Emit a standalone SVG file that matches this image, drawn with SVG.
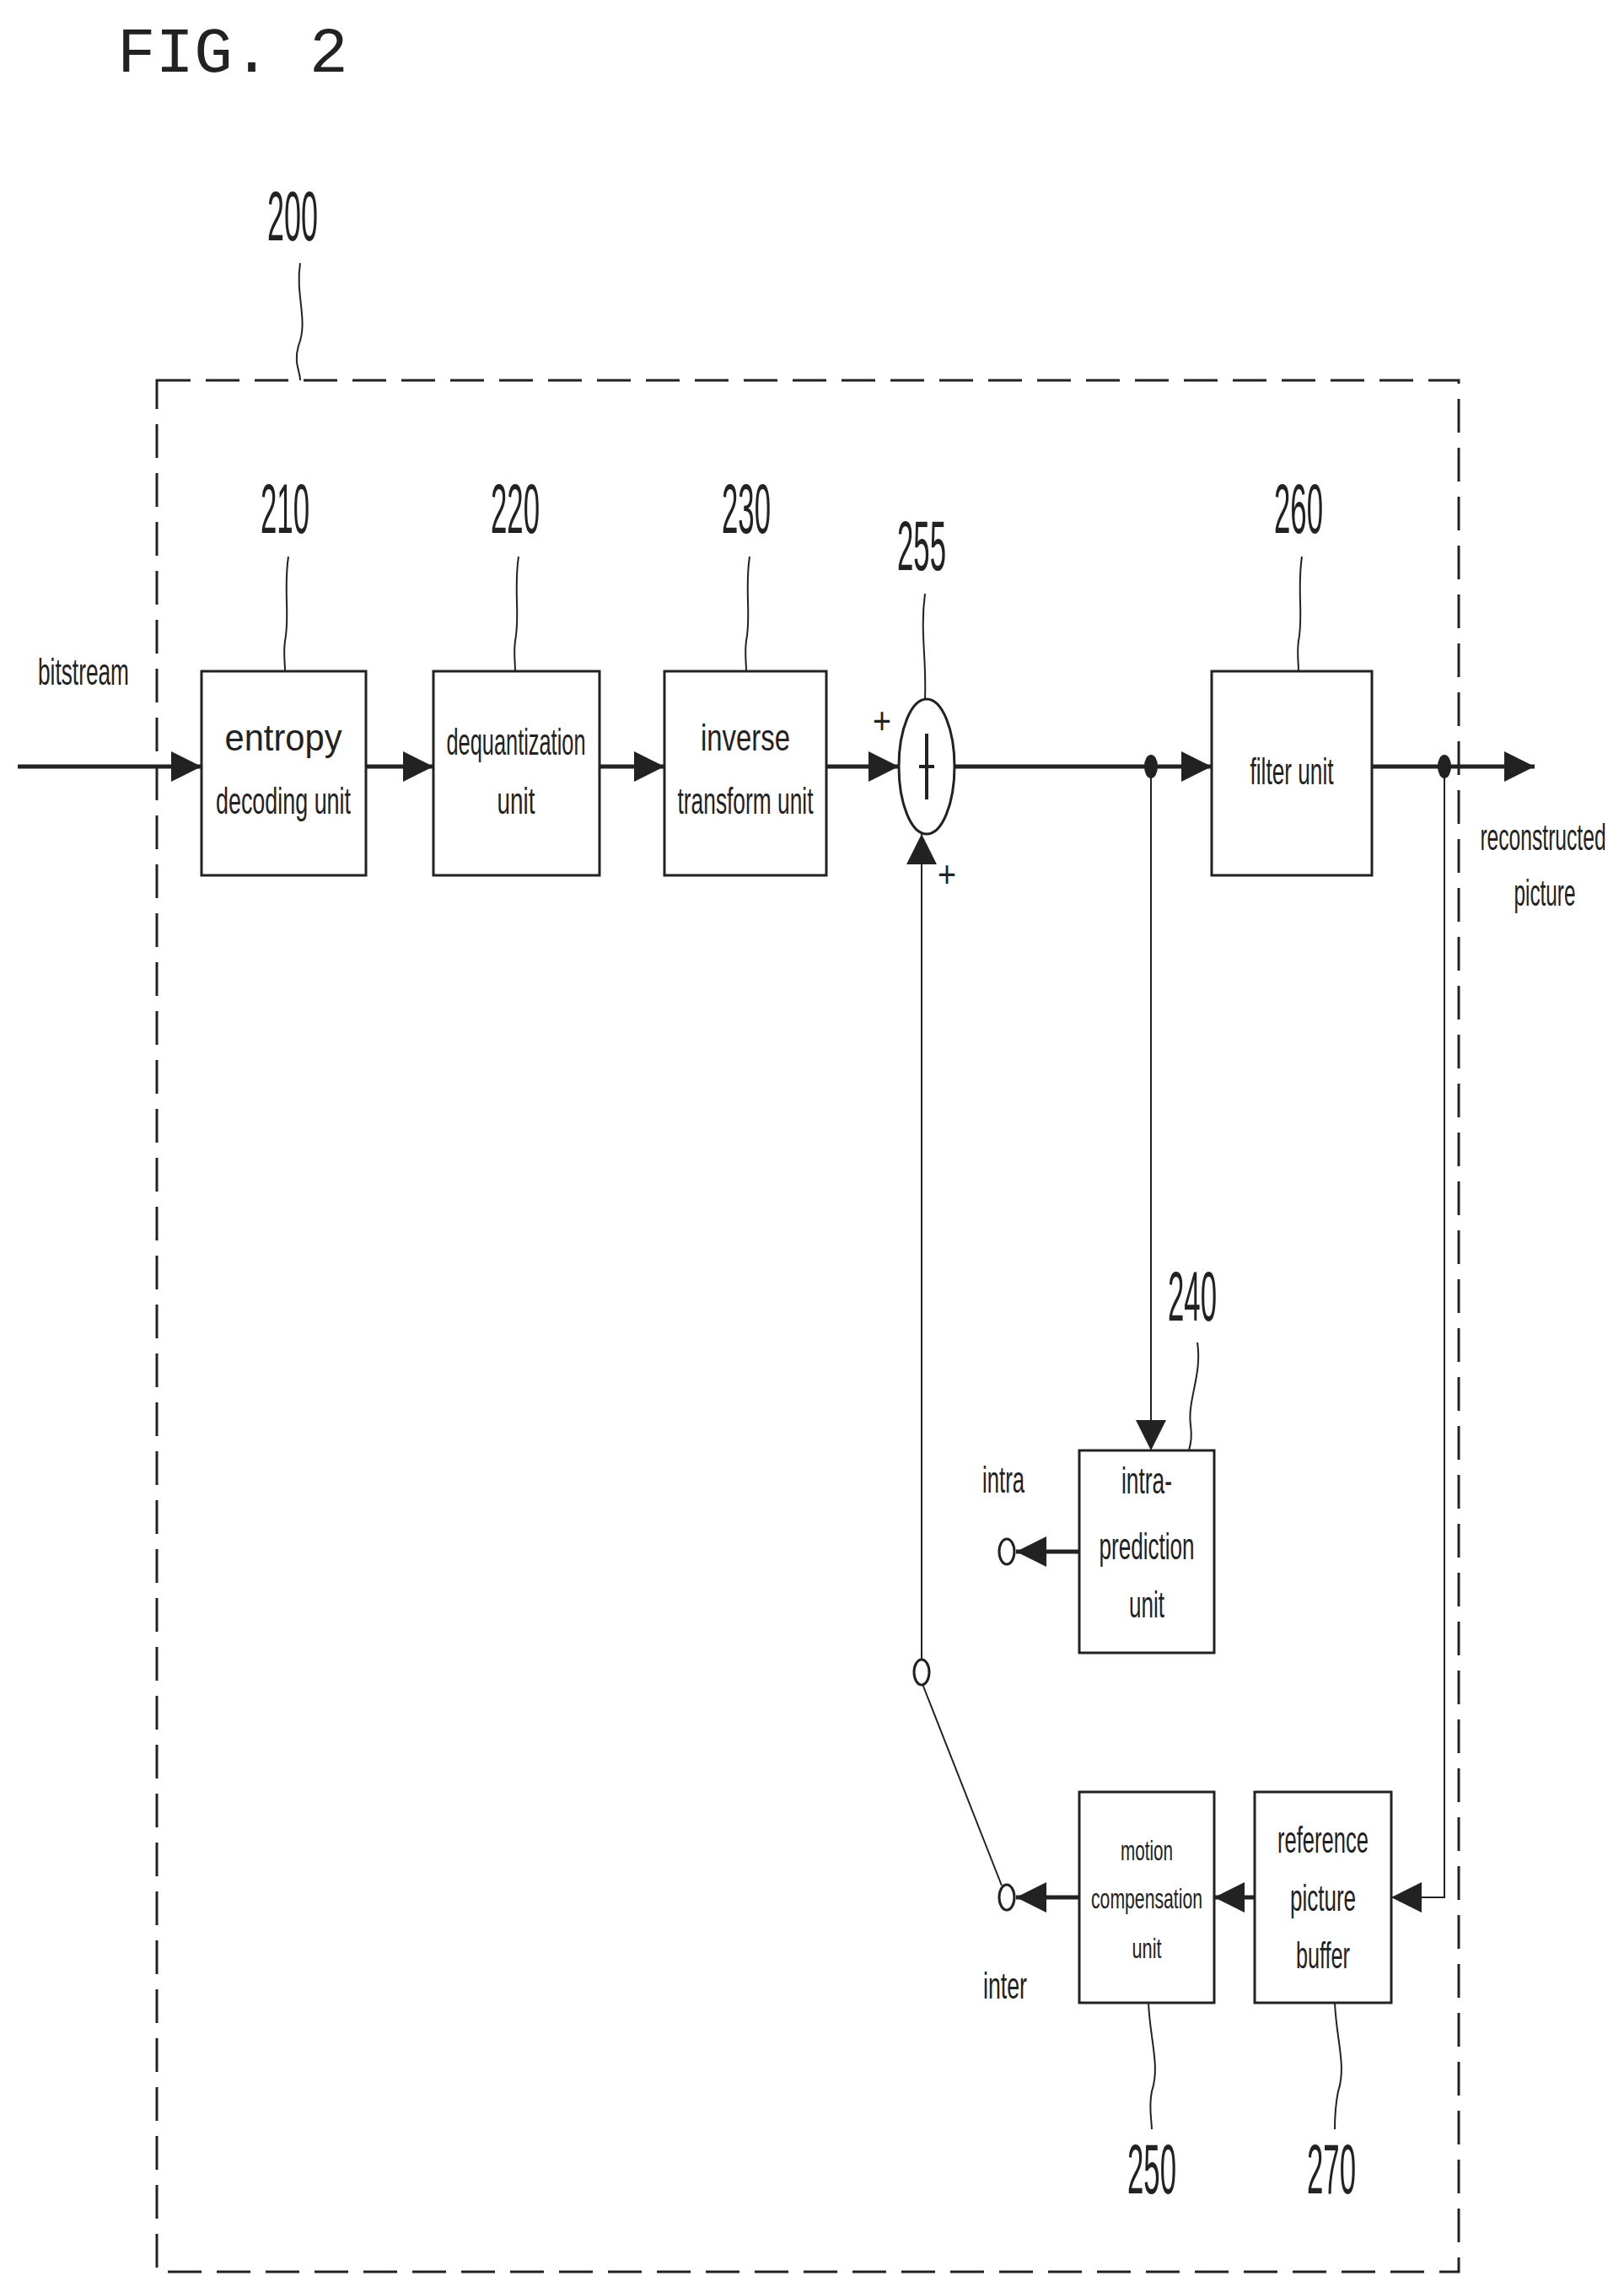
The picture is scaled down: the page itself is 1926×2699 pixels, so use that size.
<svg xmlns="http://www.w3.org/2000/svg" width="1926" height="2699" viewBox="0 0 1926 2699">
<defs>
<marker id="ah" viewBox="0 0 10 10" refX="10" refY="5" markerWidth="36" markerHeight="36" markerUnits="userSpaceOnUse" orient="auto"><path d="M0,0 L10,5 L0,10 Z" fill="#222"/></marker>
<style>
.b{fill:#fff;stroke:#222;stroke-width:3}
.t{font-family:"Liberation Sans",Arial,sans-serif;font-size:44px;fill:#222;text-anchor:middle}
.s{font-size:34px}
.n{font-family:"Liberation Sans",Arial,sans-serif;font-size:84px;fill:#222;text-anchor:middle}
.l{fill:none;stroke:#222;stroke-width:5}
.th{fill:none;stroke:#222;stroke-width:2}
</style>
</defs>
<rect width="1926" height="2699" fill="#fff"/>
<text x="139" y="85" font-family="Liberation Mono,monospace" font-size="76" fill="#222">FIG. 2</text>
<rect x="186" y="451" width="1544" height="2243" fill="none" stroke="#222" stroke-width="3" stroke-dasharray="40,18"/>
<g id="labels">
<text class="n" x="347" y="285" textLength="60" lengthAdjust="spacingAndGlyphs">200</text>
<path class="th" d="M356,312 C350,350 366,380 354,410 C348,430 356,440 356,451"/>
<text class="n" x="338" y="632" textLength="58" lengthAdjust="spacingAndGlyphs">210</text>
<path class="th" d="M342,660 C336,700 344,730 338,760 C336,775 338,785 338,796"/>
<text class="n" x="611" y="632" textLength="58" lengthAdjust="spacingAndGlyphs">220</text>
<path class="th" d="M615,660 C609,700 617,730 611,760 C609,775 611,785 611,796"/>
<text class="n" x="885" y="632" textLength="58" lengthAdjust="spacingAndGlyphs">230</text>
<path class="th" d="M889,660 C883,700 891,730 885,760 C883,775 885,785 885,796"/>
<text class="n" x="1093" y="676" textLength="58" lengthAdjust="spacingAndGlyphs">255</text>
<path class="th" d="M1097,704 C1091,750 1099,780 1097,829"/>
<text class="n" x="1540" y="632" textLength="58" lengthAdjust="spacingAndGlyphs">260</text>
<path class="th" d="M1544,660 C1538,700 1546,730 1540,760 C1538,775 1540,785 1540,796"/>
<text class="n" x="1414" y="1566" textLength="58" lengthAdjust="spacingAndGlyphs">240</text>
<path class="th" d="M1420,1592 C1426,1630 1408,1660 1412,1690 C1414,1705 1412,1712 1410,1720"/>
<text class="n" x="1366" y="2601" textLength="58" lengthAdjust="spacingAndGlyphs">250</text>
<path class="th" d="M1362,2375 C1364,2420 1376,2450 1366,2480 C1362,2500 1366,2515 1366,2525"/>
<text class="n" x="1579" y="2601" textLength="58" lengthAdjust="spacingAndGlyphs">270</text>
<path class="th" d="M1583,2375 C1585,2420 1597,2450 1587,2480 C1583,2500 1583,2515 1583,2525"/>
<text class="t" x="99" y="812" textLength="108" lengthAdjust="spacingAndGlyphs">bitstream</text>
<text class="t" transform="translate(1830,1008) scale(0.56,1)" x="0" y="0">reconstructed</text>
<text class="t" x="1832" y="1074" textLength="73" lengthAdjust="spacingAndGlyphs">picture</text>
<text class="t" x="1190" y="1770" textLength="50" lengthAdjust="spacingAndGlyphs">intra</text>
<text class="t" x="1192" y="2370" textLength="52" lengthAdjust="spacingAndGlyphs">inter</text>
<text class="t" x="1046" y="870" textLength="22" lengthAdjust="spacingAndGlyphs">+</text>
<text class="t" x="1123" y="1052" textLength="22" lengthAdjust="spacingAndGlyphs">+</text>
</g>
<g id="connectors">
<path class="l" d="M21,909 H239" marker-end="url(#ah)"/>
<path class="l" d="M434,909 H514" marker-end="url(#ah)"/>
<path class="l" d="M711,909 H788" marker-end="url(#ah)"/>
<path class="l" d="M980,909 H1066" marker-end="url(#ah)"/>
<path class="l" d="M1133,909 H1437" marker-end="url(#ah)"/>
<path class="l" d="M1627,909 H1820" marker-end="url(#ah)"/>
<ellipse cx="1365" cy="909" rx="8" ry="14" fill="#222"/>
<ellipse cx="1713" cy="909" rx="8" ry="14" fill="#222"/>
<path class="th" d="M1365,909 V1720" marker-end="url(#ah)"/>
<path class="th" d="M1713,909 V2250 H1650" marker-end="url(#ah)"/>
<path class="l" d="M1280,1840 H1205" marker-end="url(#ah)"/>
<path class="l" d="M1280,2250 H1205" marker-end="url(#ah)"/>
<path class="l" d="M1488,2250 H1440" marker-end="url(#ah)"/>
<path class="th" d="M1093,1968 V989" marker-end="url(#ah)"/>
<path class="th" d="M1094,1997 L1188,2236"/>
<ellipse cx="1093" cy="1983" rx="9" ry="15" fill="#fff" stroke="#222" stroke-width="3"/>
<ellipse cx="1194" cy="1840" rx="9" ry="15" fill="#fff" stroke="#222" stroke-width="3"/>
<ellipse cx="1194" cy="2250" rx="9" ry="15" fill="#fff" stroke="#222" stroke-width="3"/>
</g>
<g id="n255"><ellipse cx="1099" cy="909" rx="33" ry="80" fill="#fff" stroke="#222" stroke-width="3"/><path d="M1099,870 V948 M1090,909 H1108" stroke="#222" stroke-width="4"/></g>
<g id="n210"><rect class="b" x="239" y="796" width="195" height="242"/><text class="t" x="336" y="890" textLength="139" lengthAdjust="spacingAndGlyphs">entropy</text><text class="t" x="336" y="965" textLength="160" lengthAdjust="spacingAndGlyphs">decoding unit</text></g>
<g id="n220"><rect class="b" x="514" y="796" width="197" height="242"/><text class="t" x="612" y="895" textLength="165" lengthAdjust="spacingAndGlyphs">dequantization</text><text class="t" x="612" y="965" textLength="45" lengthAdjust="spacingAndGlyphs">unit</text></g>
<g id="n230"><rect class="b" x="788" y="796" width="192" height="242"/><text class="t" x="884" y="890" textLength="106" lengthAdjust="spacingAndGlyphs">inverse</text><text class="t" x="884" y="965" textLength="161" lengthAdjust="spacingAndGlyphs">transform unit</text></g>
<g id="n260"><rect class="b" x="1437" y="796" width="190" height="242"/><text class="t" x="1532" y="930" textLength="99" lengthAdjust="spacingAndGlyphs">filter unit</text></g>
<g id="n240"><rect class="b" x="1280" y="1720" width="160" height="240"/><text class="t" x="1360" y="1771" textLength="60" lengthAdjust="spacingAndGlyphs">intra-</text><text class="t" x="1360" y="1849" textLength="113" lengthAdjust="spacingAndGlyphs">prediction</text><text class="t" x="1360" y="1918" textLength="42" lengthAdjust="spacingAndGlyphs">unit</text></g>
<g id="n250"><rect class="b" x="1280" y="2125" width="160" height="250"/><text class="t s" x="1360" y="2206" textLength="62" lengthAdjust="spacingAndGlyphs">motion</text><text class="t s" x="1360" y="2263" textLength="132" lengthAdjust="spacingAndGlyphs">compensation</text><text class="t s" x="1360" y="2322" textLength="35" lengthAdjust="spacingAndGlyphs">unit</text></g>
<g id="n270"><rect class="b" x="1488" y="2125" width="162" height="250"/><text class="t" x="1569" y="2197" textLength="108" lengthAdjust="spacingAndGlyphs">reference</text><text class="t" x="1569" y="2266" textLength="78" lengthAdjust="spacingAndGlyphs">picture</text><text class="t" x="1569" y="2334" textLength="64" lengthAdjust="spacingAndGlyphs">buffer</text></g>
</svg>
